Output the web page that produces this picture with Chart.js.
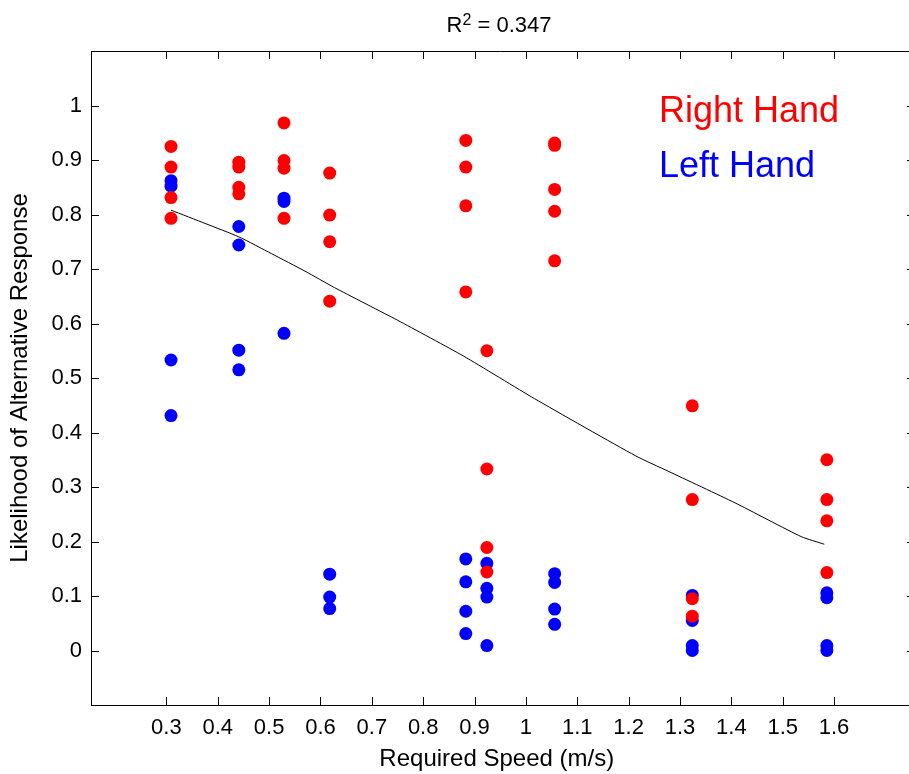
<!DOCTYPE html>
<html>
<head>
<meta charset="utf-8">
<script src="https://cdn.jsdelivr.net/npm/chart.js@4.4.1/dist/chart.umd.min.js"></script>
<style>
    html, body { margin: 0; padding: 0; background: #fff; overflow: hidden; }
    #wrap { width: 909px; height: 774px; }
</style>
</head>
<body>
<div id="wrap"><canvas id="chart" width="909" height="774"></canvas></div>
<script>
// speeds (m/s) of each column of dots
const speeds = [0.309, 0.441, 0.529, 0.618, 0.883, 0.924, 1.056, 1.324, 1.586];

// likelihood per speed column
const rightHand = [
    [0.925, 0.887, 0.831, 0.793],
    [0.896, 0.887, 0.850, 0.838],
    [0.968, 0.899, 0.885, 0.793],
    [0.876, 0.799, 0.750, 0.641],
    [0.936, 0.887, 0.816, 0.658],
    [0.550, 0.333, 0.189, 0.144],
    [0.931, 0.927, 0.846, 0.806, 0.715],
    [0.449, 0.277, 0.095, 0.063],
    [0.350, 0.277, 0.238, 0.143]
];
const leftHand = [
    [0.862, 0.852, 0.533, 0.431],
    [0.778, 0.744, 0.551, 0.515],
    [0.830, 0.824, 0.582],
    [0.140, 0.098, 0.077],
    [0.168, 0.126, 0.072, 0.031],
    [0.160, 0.114, 0.098, 0.009],
    [0.141, 0.125, 0.076, 0.048],
    [0.101, 0.055, 0.009, 0.000],
    [0.106, 0.097, 0.009, 0.000]
];

// fitted curve
const fitX = [0.309, 0.377, 0.441, 0.505, 0.570, 0.627, 0.750, 0.879, 1.017, 1.214, 1.277, 1.407, 1.536, 1.581];
const fitY = [0.808, 0.783, 0.759, 0.728, 0.696, 0.666, 0.606, 0.540, 0.462, 0.357, 0.329, 0.271, 0.209, 0.195];

const xTicks = [0.3, 0.4, 0.5, 0.6, 0.7, 0.8, 0.9, 1.0, 1.1, 1.2, 1.3, 1.4, 1.5, 1.6];
const xTickLabels = ['0.3', '0.4', '0.5', '0.6', '0.7', '0.8', '0.9', '1', '1.1', '1.2', '1.3', '1.4', '1.5', '1.6'];
const yTicks = [0, 0.1, 0.2, 0.3, 0.4, 0.5, 0.6, 0.7, 0.8, 0.9, 1.0];
const yTickLabels = ['0', '0.1', '0.2', '0.3', '0.4', '0.5', '0.6', '0.7', '0.8', '0.9', '1'];

const FONT = '"Liberation Sans", Arial, Helvetica, sans-serif';

function toPoints(cols)
{
    const pts = [];
    cols.forEach((vals, i) => vals.forEach(v => pts.push({ x: speeds[i], y: v })));
    return pts;
}

const framePlugin = {
    id: 'frame',
    afterDraw(chart) {
        const ctx = chart.ctx;
        const area = chart.chartArea;
        const xs = chart.scales.x;
        const ys = chart.scales.y;
        ctx.save();
        ctx.strokeStyle = '#000';
        ctx.lineWidth = 1;
        ctx.beginPath();
        ctx.moveTo(area.left + 0.5, area.top + 0.5);
        ctx.lineTo(chart.width, area.top + 0.5);
        ctx.moveTo(area.left + 0.5, area.top);
        ctx.lineTo(area.left + 0.5, area.bottom + 0.5);
        ctx.moveTo(area.left, area.bottom + 0.5);
        ctx.lineTo(chart.width, area.bottom + 0.5);
        xs.ticks.forEach(t => {
            const px = Math.round(xs.getPixelForValue(t.value)) + 0.5;
            ctx.moveTo(px, area.bottom);
            ctx.lineTo(px, area.bottom - 8);
            ctx.moveTo(px, area.top);
            ctx.lineTo(px, area.top + 8);
        });
        ys.ticks.forEach(t => {
            const py = Math.round(ys.getPixelForValue(t.value)) + 0.5;
            ctx.moveTo(area.left, py);
            ctx.lineTo(area.left + 8, py);
            ctx.moveTo(chart.width - 2, py);
            ctx.lineTo(chart.width, py);
        });
        ctx.stroke();

        // title with superscript
        ctx.fillStyle = '#000';
        ctx.textBaseline = 'alphabetic';
        ctx.font = '22px ' + FONT;
        const wR = ctx.measureText('R').width;
        const wRest = ctx.measureText(' = 0.347').width;
        ctx.font = '16px ' + FONT;
        const w2 = ctx.measureText('2').width;
        let x = 499 - (wR + w2 + wRest) / 2;
        ctx.font = '22px ' + FONT;
        ctx.fillText('R', x, 32);
        ctx.font = '16px ' + FONT;
        ctx.fillText('2', x + wR, 25);
        ctx.font = '22px ' + FONT;
        ctx.fillText(' = 0.347', x + wR + w2, 32);

        // hand labels
        ctx.font = '36px ' + FONT;
        ctx.fillStyle = '#ff0000';
        ctx.fillText('Right Hand', 659, 122);
        ctx.fillStyle = '#0000ff';
        ctx.fillText('Left Hand', 659, 177);
        ctx.restore();
    }
};

new Chart(document.getElementById('chart'), {
    type: 'scatter',
    data: {
        datasets: [
            { label: 'Fit', type: 'line', data: fitX.map((x, i) => ({ x: x, y: fitY[i] })), borderColor: '#000', borderWidth: 1, pointRadius: 0, fill: false, tension: 0.2, order: 0 },
            { label: 'Right Hand', data: toPoints(rightHand), backgroundColor: '#ff0000', borderWidth: 0, pointRadius: 6.5, order: 1 },
            { label: 'Left Hand', data: toPoints(leftHand), backgroundColor: '#0000ff', borderWidth: 0, pointRadius: 6.5, order: 2 }
        ]
    },
    options: {
        responsive: false,
        devicePixelRatio: 1,
        animation: false,
        layout: { padding: { top: 51, left: 0, right: 0, bottom: 0 } },
        plugins: { legend: { display: false }, tooltip: { enabled: false }, title: { display: false } },
        scales: {
            x: {
                type: 'linear',
                min: 0.1532,
                max: 1.7333,
                afterBuildTicks: scale => { scale.ticks = xTicks.map(v => ({ value: v })); },
                afterFit: scale => { scale.height = 69; },
                grid: { display: false, drawTicks: false },
                border: { display: false },
                ticks: {
                    color: '#000',
                    padding: 10,
                    maxRotation: 0,
                    autoSkip: false,
                    font: { family: FONT, size: 22 },
                    callback: (v, i) => xTickLabels[i]
                },
                title: { display: true, text: 'Required Speed (m/s)', color: '#000', font: { family: FONT, size: 24 }, padding: { top: 0, bottom: 0 } }
            },
            y: {
                type: 'linear',
                min: -0.1,
                max: 1.1,
                afterBuildTicks: scale => { scale.ticks = yTicks.map(v => ({ value: v })); },
                afterFit: scale => { scale.width = 91; },
                grid: { display: false, drawTicks: false },
                border: { display: false },
                ticks: {
                    color: '#000',
                    padding: 9,
                    autoSkip: false,
                    font: { family: FONT, size: 22 },
                    callback: (v, i) => yTickLabels[i]
                },
                title: { display: true, text: 'Likelihood of Alternative Response', color: '#000', font: { family: FONT, size: 24 }, padding: { top: 6, bottom: 0 } }
            }
        }
    },
    plugins: [framePlugin]
});
</script>
</body>
</html>
